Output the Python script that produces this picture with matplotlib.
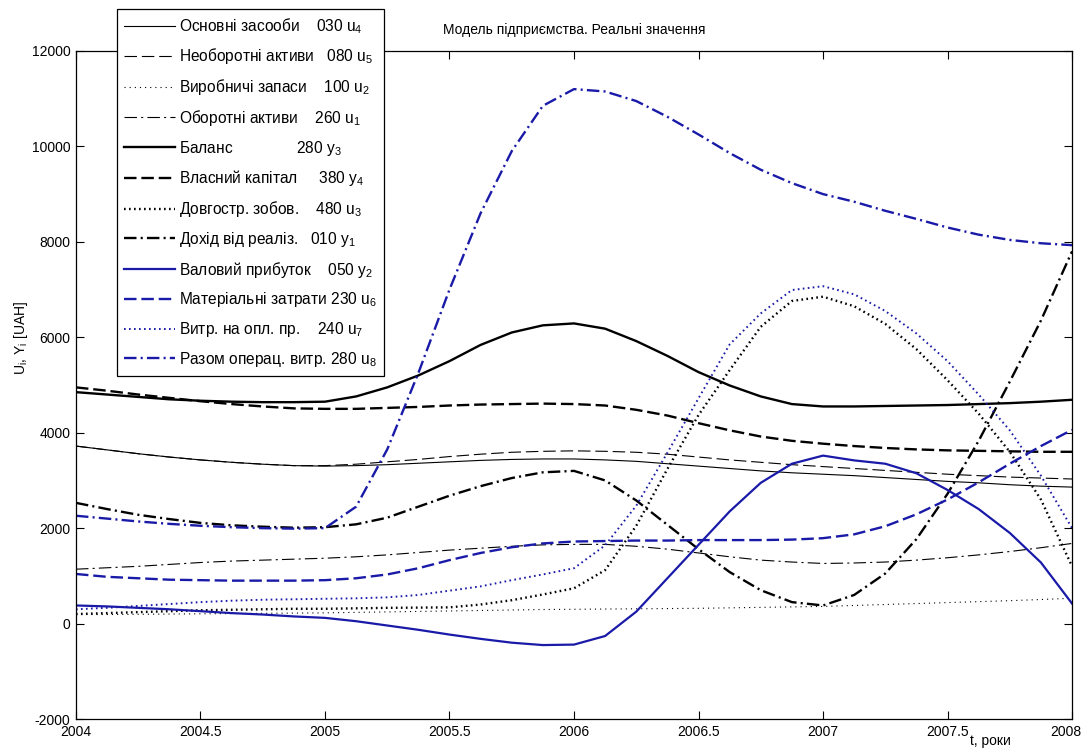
import numpy as np
import matplotlib
matplotlib.use("Agg")
import matplotlib.pyplot as plt
from matplotlib.transforms import ScaledTranslation

plt.rcParams['font.family'] = ['Liberation Sans', 'DejaVu Sans']
plt.rcParams['lines.scale_dashes'] = False
plt.rcParams['axes.unicode_minus'] = False

# sampling grid, years
t = [2004.0, 2004.125, 2004.25, 2004.375, 2004.5, 2004.625, 2004.75, 2004.875,
     2005.0, 2005.125, 2005.25, 2005.375, 2005.5, 2005.625, 2005.75, 2005.875,
     2006.0, 2006.125, 2006.25, 2006.375, 2006.5, 2006.625, 2006.75, 2006.875,
     2007.0, 2007.125, 2007.25, 2007.375, 2007.5, 2007.625, 2007.75, 2007.875,
     2008.0]

# u4 - основні засоби
u4 = [3720, 3640, 3560, 3490, 3430, 3380, 3340, 3310,
      3300, 3310, 3330, 3360, 3390, 3420, 3440, 3450,
      3450, 3430, 3400, 3350, 3300, 3250, 3200, 3160,
      3130, 3100, 3060, 3020, 2980, 2950, 2910, 2880,
      2860]
# u5 - необоротні активи
u5 = [3720, 3640, 3560, 3490, 3430, 3380, 3340, 3310,
      3310, 3340, 3390, 3440, 3500, 3550, 3590, 3610,
      3620, 3610, 3590, 3550, 3490, 3430, 3380, 3330,
      3290, 3250, 3210, 3170, 3130, 3100, 3070, 3050,
      3030]
# u2 - виробничі запаси
u2 = [190, 190, 195, 200, 205, 210, 215, 220,
      225, 235, 245, 255, 265, 275, 285, 295,
      300, 305, 310, 315, 320, 330, 340, 350,
      360, 380, 400, 420, 440, 460, 480, 505,
      530]
# u1 - оборотні активи
u1 = [1140, 1170, 1200, 1240, 1280, 1310, 1330, 1350,
      1370, 1400, 1440, 1490, 1540, 1580, 1620, 1650,
      1660, 1660, 1620, 1560, 1480, 1400, 1330, 1290,
      1260, 1270, 1290, 1330, 1380, 1440, 1510, 1590,
      1680]
# y3 - баланс
y3 = [4850, 4800, 4750, 4700, 4670, 4650, 4640, 4640,
      4650, 4760, 4950, 5200, 5500, 5840, 6100, 6250,
      6290, 6180, 5920, 5610, 5270, 4990, 4760, 4600,
      4550, 4550, 4560, 4570, 4580, 4600, 4620, 4650,
      4690]
# y4 - власний капітал
y4 = [4950, 4880, 4800, 4730, 4660, 4600, 4550, 4510,
      4500, 4500, 4520, 4540, 4570, 4590, 4600, 4610,
      4600, 4570, 4480, 4360, 4200, 4050, 3920, 3830,
      3770, 3720, 3680, 3650, 3630, 3620, 3610, 3600,
      3600]
# u3 - довгострокові зобов'язання
u3 = [200, 220, 240, 260, 280, 290, 300, 310,
      310, 320, 330, 335, 340, 400, 490, 610,
      740, 1120, 2050, 3240, 4370, 5310, 6220, 6760,
      6850, 6650, 6280, 5750, 5100, 4400, 3600, 2600,
      1200]
# y1 - дохід від реалізації
y1 = [2530, 2400, 2280, 2190, 2110, 2060, 2030, 2010,
      2020, 2080, 2220, 2450, 2680, 2880, 3050, 3170,
      3200, 3000, 2580, 2070, 1560, 1080, 700, 450,
      380, 600, 1050, 1770, 2720, 3830, 5070, 6350,
      7800]
# y2 - валовий прибуток
y2 = [380, 360, 330, 300, 260, 220, 190, 150,
      120, 50, -40, -130, -230, -320, -400, -450,
      -440, -260, 250, 950, 1650, 2350, 2950, 3350,
      3520, 3420, 3350, 3150, 2800, 2400, 1900, 1280,
      420]
# u6 - матеріальні затрати
u6 = [1040, 980, 950, 920, 910, 900, 900, 900,
      910, 950, 1030, 1160, 1330, 1480, 1600, 1680,
      1720, 1730, 1740, 1740, 1750, 1750, 1750, 1760,
      1790, 1870, 2040, 2290, 2600, 2960, 3350, 3720,
      4060]
# u7 - витрати на оплату праці
u7 = [300, 330, 370, 410, 450, 480, 500, 510,
      520, 530, 550, 600, 690, 780, 910, 1030,
      1160, 1640, 2470, 3580, 4720, 5850, 6500, 6990,
      7070, 6900, 6550, 6080, 5500, 4800, 4050, 3100,
      2000]
# u8 - разом операційні витрати
u8 = [2260, 2200, 2140, 2090, 2050, 2020, 2000, 1990,
      2000, 2450, 3650, 5250, 7000, 8600, 9900, 10850,
      11200, 11150, 10950, 10620, 10250, 9860, 9510, 9230,
      9000, 8840, 8650, 8480, 8300, 8150, 8040, 7970,
      7930]

labels = [
    r'Основні засооби    030 $\mathregular{u_4}$',
    r'Необоротні активи   080 $\mathregular{u_5}$',
    r'Виробничі запаси    100 $\mathregular{u_2}$',
    r'Оборотні активи    260 $\mathregular{u_1}$',
    r'Баланс               280 $\mathregular{y_3}$',
    r'Власний капітал     380 $\mathregular{y_4}$',
    r'Довгостр. зобов.    480 $\mathregular{u_3}$',
    r'Дохід від реаліз.   010 $\mathregular{y_1}$',
    r'Валовий прибуток    050 $\mathregular{y_2}$',
    r'Матеріальні затрати 230 $\mathregular{u_6}$',
    r'Витр. на опл. пр.    240 $\mathregular{u_7}$',
    r'Разом операц. витр. 280 $\mathregular{u_8}$',
]

BLUE = '#1a1aa8'
SOLID = '-'
DASH = (0, (9, 3.5))
DOT = (0, (0.8, 2.9))
DOT_THICK = (0, (1.2, 2.4))
DASHDOT = (0, (9, 3, 1.5, 3))

styles = [
    (u4, 'k', SOLID, 0.8),
    (u5, 'k', DASH, 0.8),
    (u2, 'k', DOT, 0.8),
    (u1, 'k', DASHDOT, 0.8),
    (y3, 'k', SOLID, 1.7),
    (y4, 'k', DASH, 1.7),
    (u3, 'k', DOT_THICK, 1.7),
    (y1, 'k', DASHDOT, 1.7),
    (y2, BLUE, SOLID, 1.6),
    (u6, BLUE, DASH, 1.7),
    (u7, BLUE, DOT_THICK, 1.4),
    (u8, BLUE, DASHDOT, 1.7),
]

fig = plt.figure(figsize=(10.82, 7.49), dpi=100)
ax = fig.add_axes([0.0702, 0.040, 0.9206, 0.892])

handles = []
for (vals, col, ls, lw), lab in zip(styles, labels):
    h, = ax.plot(t, vals, color=col, linestyle=ls, linewidth=lw, label=lab)
    handles.append(h)

ax.set_xlim(2004, 2008)
ax.set_ylim(-2000, 12000)
ax.set_xticks([2004, 2004.5, 2005, 2005.5, 2006, 2006.5, 2007, 2007.5, 2008])
ax.set_xticklabels(['2004', '2004.5', '2005', '2005.5', '2006', '2006.5',
                    '2007', '2007.5', '2008'])
ax.set_yticks(np.arange(-2000, 12001, 2000))
ax.tick_params(direction='in', top=True, right=True, length=6, width=0.8,
               labelsize=10, pad=4)
for sp in ax.spines.values():
    sp.set_linewidth(0.9)

# keep the last year label inside the figure
last = ax.get_xticklabels()[-1]
last.set_transform(last.get_transform() +
                   ScaledTranslation(-0.06, 0, fig.dpi_scale_trans))

ax.set_title('Модель підприємства. Реальні значення', fontsize=10, pad=12)
ax.set_xlabel('t, роки', fontsize=10)
ax.xaxis.set_label_coords(0.918, -0.022)
ax.set_ylabel(r'$\mathregular{U_i}$, $\mathregular{Y_i}$ [UAH]', fontsize=10)
ax.yaxis.set_label_coords(-0.046, 0.57)

leg = fig.legend(handles=handles, loc='upper left',
                 bbox_to_anchor=(117 / 1082, 740 / 749),
                 bbox_transform=fig.transFigure, borderaxespad=0,
                 fontsize=11.2, handlelength=3.3, handletextpad=0.25,
                 labelspacing=0.69, borderpad=0.45, fancybox=False,
                 framealpha=1, edgecolor='k')
leg.get_frame().set_linewidth(0.9)

fig.savefig('out.png', dpi=100)
